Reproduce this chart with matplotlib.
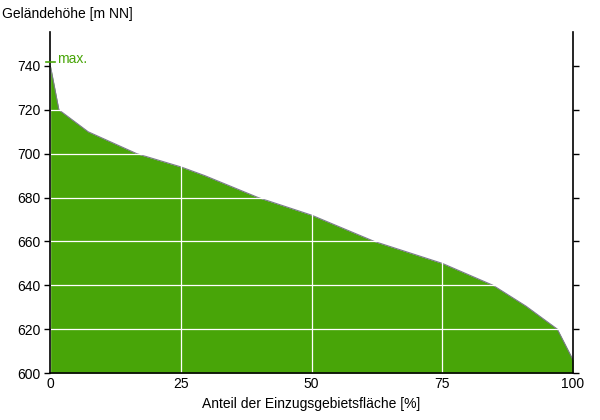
import numpy as np
import matplotlib.pyplot as plt

plt.rcParams['font.family'] = ['Liberation Sans', 'DejaVu Sans']

# hypsometric curve: share of catchment area (%) vs. elevation (m NN)
area_pct = [0, 1.7, 7.3, 16.6, 25, 29.6, 39.8, 50, 62, 75, 84.7, 91, 97, 100]
elev_m = [741, 720, 710, 700, 694, 690, 680, 672, 660, 650, 640, 630.5, 620, 606]
max_elev = 741.8

green = '#48a508'

fig = plt.figure(figsize=(6, 4.2), dpi=100)
ax = fig.add_axes([50 / 600, 47 / 420, 523 / 600, 341 / 420])

ax.fill_between(area_pct, 600, elev_m, color=green, lw=0, zorder=1)
ax.plot(area_pct, elev_m, color='#7a7a8a', lw=0.8, zorder=2)

ax.set_xlim(0, 100)
ax.set_ylim(600, 755.5)
ax.set_xticks([0, 25, 50, 75, 100])
ax.set_yticks(np.arange(600, 741, 20))
ax.grid(True, color='white', lw=0.9, zorder=3)
ax.set_axisbelow(False)

ax.spines['top'].set_visible(False)
for s in ['left', 'right', 'bottom']:
    ax.spines[s].set_linewidth(1.2)
    ax.spines[s].set_zorder(4)
ax.tick_params(axis='y', which='both', left=True, right=True, direction='out',
               length=4, width=1, labelsize=10, pad=3)
ax.tick_params(axis='x', length=0, labelsize=10, pad=3)

# max. marker
ax.plot([-0.8, 1.0], [max_elev, max_elev], color=green, lw=1.2,
        clip_on=False, zorder=5)
ax.text(1.4, max_elev + 1.6, 'max.', color=green, fontsize=10,
        va='center', ha='left')

fig.text(2 / 600, 1 - 14 / 420, 'Geländehöhe [m NN]', fontsize=10,
         va='center', ha='left')
ax.set_xlabel('Anteil der Einzugsgebietsfläche [%]', fontsize=10, labelpad=4)

plt.savefig('out.png', dpi=100)
